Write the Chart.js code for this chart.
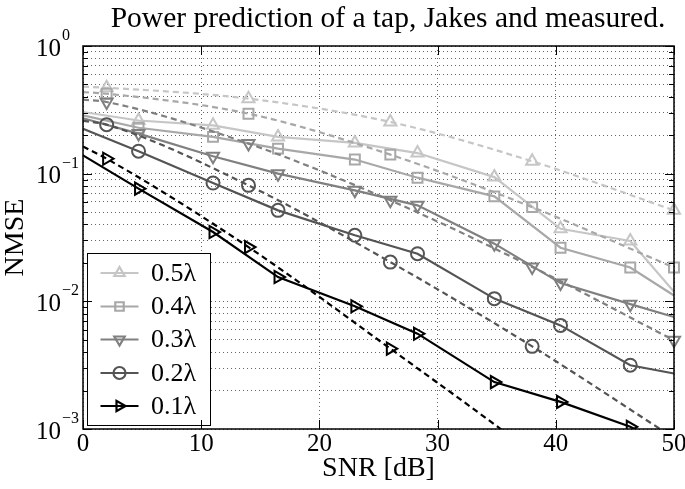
<!DOCTYPE html>
<html><head><meta charset="utf-8">
<script src="https://cdn.jsdelivr.net/npm/chart.js@4.4.1/dist/chart.umd.min.js"></script>
<style>html,body{margin:0;padding:0;background:#fff}#wrap{width:685px;height:489px;position:relative}</style>
</head><body><div id="wrap"><canvas id="c" width="685" height="489"></canvas></div>
<script>
// ---------- data ----------
const seriesLabels = ['0.5λ', '0.4λ', '0.3λ', '0.2λ', '0.1λ'];
// measured (solid) curves
const snrSolid = [0, 4.7, 11, 16.5, 23, 28.3, 34.8, 40.4, 46.3, 50];
const solid05 = [0.304, 0.261, 0.239, 0.194, 0.174, 0.145, 0.094, 0.037, 0.0297, 0.0119];
const solid04 = [0.286, 0.229, 0.194, 0.157, 0.129, 0.093, 0.0664, 0.0263, 0.0184, 0.0111];
const solid03 = [0.272, 0.206, 0.137, 0.100, 0.074, 0.0565, 0.0283, 0.0139, 0.0095, 0.00753];
const solid02 = [0.225, 0.150, 0.0844, 0.0516, 0.0329, 0.0236, 0.0105, 0.00648, 0.00316, 0.00272];
const solid01 = [0.139, 0.0763, 0.0349, 0.0155, 0.00914, 0.00558, 0.00233, 0.00163, 0.00104, 0.0007];
const solidMarked = [false, true, true, true, true, true, true, true, true, false];
// Jakes (dashed) curves
const snrDashed = [0, 2, 14, 26, 38, 50];
const dashed05 = [0.48, 0.471, 0.387, 0.254, 0.125, 0.0516];
const dashed04 = [0.435, 0.423, 0.295, 0.141, 0.0547, 0.0184];
const dashed03 = [0.38, 0.364, 0.172, 0.0618, 0.0186, 0.00495];
const dashed02 = [0.26, 0.242, 0.081, 0.0203, 0.00444, 0.00085];
const dashed01 = [0.163, 0.131, 0.0266, 0.00426, 0.00065, 0.000083];
const dashedMarked = [false, true, true, true, true, true];
// ticks
const xTickValues = [0, 10, 20, 30, 40, 50];
const xTickLabels = ['0', '10', '20', '30', '40', '50'];
const yTickValues = [1, 0.1, 0.01, 0.001];
const yTickExponents = ['0', '−1', '−2', '−3'];
const yDecades = [-3, -2, -1];
const yMantissas = [1, 2, 3, 4, 5, 6, 7, 8, 9];

// ---------- styling ----------
const colors = ['#c6c6c6', '#a8a8a8', '#808080', '#545454', '#000000'];
const shapes = ['triangle', 'rect', 'triangle', 'circle', 'triangle'];
const rotations = [0, 0, 180, 0, 90];
const radii = [7, 7, 7, 6.5, 7];
const solids = [solid05, solid04, solid03, solid02, solid01];
const dasheds = [dashed05, dashed04, dashed03, dashed02, dashed01];

const yGrid = [];
yDecades.forEach(e => yMantissas.forEach(m => yGrid.push(+(m * Math.pow(10, e)).toPrecision(3))));
yGrid.push(1);

const datasets = [];
for (let i = 4; i >= 0; i--) {
  datasets.push({
    label: seriesLabels[i] + ' measured',
    data: snrSolid.map((x, k) => ({x, y: solids[i][k]})),
    borderColor: colors[i], backgroundColor: 'rgba(0,0,0,0)',
    borderWidth: 2.2, tension: 0,
    pointStyle: shapes[i], pointRotation: rotations[i],
    pointRadius: solidMarked.map(m => m ? radii[i] : 0),
    pointBorderWidth: 2, pointBorderColor: colors[i], pointBackgroundColor: 'rgba(0,0,0,0)',
    clip: {left: 12, top: 12, right: 12, bottom: 0}
  });
  datasets.push({
    label: seriesLabels[i] + ' Jakes',
    data: snrDashed.map((x, k) => ({x, y: dasheds[i][k]})),
    borderColor: colors[i], backgroundColor: 'rgba(0,0,0,0)',
    borderWidth: 2.2, borderDash: [6, 4], cubicInterpolationMode: 'monotone',
    pointStyle: shapes[i], pointRotation: rotations[i],
    pointRadius: dashedMarked.map(m => m ? radii[i] : 0),
    pointBorderWidth: 2, pointBorderColor: colors[i], pointBackgroundColor: 'rgba(0,0,0,0)',
    clip: {left: 12, top: 12, right: 12, bottom: 0}
  });
}

const FONT = "'Liberation Serif', 'Times New Roman', serif";

function drawMarker(ctx, shape, rot, r, x, y) {
  ctx.beginPath();
  if (shape === 'circle') {
    ctx.arc(x, y, r, 0, Math.PI * 2);
  } else if (shape === 'rect') {
    const s = Math.SQRT1_2 * r;
    ctx.rect(x - s, y - s, 2 * s, 2 * s);
  } else {
    let a = rot * Math.PI / 180;
    ctx.moveTo(x + Math.sin(a) * r, y - Math.cos(a) * r);
    a += 2 * Math.PI / 3;
    ctx.lineTo(x + Math.sin(a) * r, y - Math.cos(a) * r);
    a += 2 * Math.PI / 3;
    ctx.lineTo(x + Math.sin(a) * r, y - Math.cos(a) * r);
    ctx.closePath();
  }
  ctx.stroke();
}

const deco = {
  id: 'deco',
  afterDraw(chart) {
    const ctx = chart.ctx, a = chart.chartArea, xs = chart.scales.x, ys = chart.scales.y;
    ctx.save();
    // legend
    const lx0 = 87.5, ly0 = 253.5, lx1 = 210.5, ly1 = 425.5;
    ctx.fillStyle = '#fff';
    ctx.fillRect(lx0, ly0, lx1 - lx0, ly1 - ly0);
    ctx.strokeStyle = '#000'; ctx.lineWidth = 1;
    ctx.strokeRect(lx0, ly0, lx1 - lx0, ly1 - ly0);
    const rowY = [273, 306.5, 339.5, 373, 406];
    ctx.font = '26px ' + FONT;
    ctx.textBaseline = 'middle'; ctx.textAlign = 'left';
    for (let i = 0; i < 5; i++) {
      ctx.strokeStyle = colors[i]; ctx.lineWidth = 2.2; ctx.setLineDash([]);
      ctx.beginPath(); ctx.moveTo(100.5, rowY[i]); ctx.lineTo(138.5, rowY[i]); ctx.stroke();
      drawMarker(ctx, shapes[i], rotations[i], 6, 119.5, rowY[i]);
      ctx.fillStyle = '#000';
      ctx.fillText(seriesLabels[i], 151, rowY[i] + 1);
    }
    // inner ticks
    ctx.strokeStyle = '#000'; ctx.lineWidth = 1;
    ctx.beginPath();
    yGrid.forEach(v => {
      const p = Math.round(ys.getPixelForValue(v)) + 0.5;
      const major = yTickValues.indexOf(v) >= 0;
      const L = major ? 9 : 5;
      ctx.moveTo(a.left, p); ctx.lineTo(a.left + L, p);
      ctx.moveTo(a.right, p); ctx.lineTo(a.right - L, p);
    });
    xTickValues.forEach(v => {
      const p = Math.round(xs.getPixelForValue(v)) + 0.5;
      ctx.moveTo(p, a.bottom); ctx.lineTo(p, a.bottom - 9);
      ctx.moveTo(p, a.top); ctx.lineTo(p, a.top + 9);
    });
    ctx.stroke();
    // box
    ctx.lineWidth = 1.5;
    ctx.strokeRect(a.left, a.top, a.right - a.left, a.bottom - a.top);
    // x tick labels
    ctx.fillStyle = '#000';
    ctx.font = '25px ' + FONT;
    ctx.textAlign = 'center'; ctx.textBaseline = 'top';
    xTickValues.forEach((v, k) => ctx.fillText(xTickLabels[k], xs.getPixelForValue(v), a.bottom + 3));
    // y tick labels
    yTickValues.forEach((v, k) => {
      const p = ys.getPixelForValue(v);
      ctx.font = '25px ' + FONT;
      ctx.textAlign = 'left'; ctx.textBaseline = 'middle';
      ctx.fillText('10', 36, p + 3);
      ctx.font = '16px ' + FONT;
      ctx.textBaseline = 'alphabetic';
      ctx.fillText(yTickExponents[k], 62, p - 6);
    });
    // axis titles
    ctx.font = '28px ' + FONT;
    ctx.textAlign = 'center'; ctx.textBaseline = 'middle';
    ctx.fillText('SNR [dB]', (a.left + a.right) / 2, 469);
    ctx.save();
    ctx.translate(16, (a.top + a.bottom) / 2);
    ctx.rotate(-Math.PI / 2);
    ctx.fillText('NMSE', 0, 0);
    ctx.restore();
    // title
    ctx.font = '29.5px ' + FONT;
    ctx.fillText('Power prediction of a tap, Jakes and measured.', 388, 19);
    ctx.restore();
  }
};

new Chart(document.getElementById('c'), {
  type: 'line',
  data: {datasets},
  options: {
    responsive: false, animation: false,
    layout: {padding: {left: 83, top: 46, right: 11, bottom: 60}},
    plugins: {legend: {display: false}, tooltip: {enabled: false}, title: {display: false}},
    scales: {
      x: {
        type: 'linear', min: 0, max: 50,
        afterBuildTicks: s => { s.ticks = xTickValues.map(v => ({value: v})); },
        ticks: {display: false},
        grid: {color: 'rgba(0,0,0,0.6)', lineWidth: 1, drawTicks: false},
        border: {display: false, dash: [1, 3]}
      },
      y: {
        type: 'logarithmic', min: 0.001, max: 1,
        afterBuildTicks: s => { s.ticks = yGrid.map(v => ({value: v})); },
        ticks: {display: false},
        grid: {color: 'rgba(0,0,0,0.6)', lineWidth: 1, drawTicks: false},
        border: {display: false, dash: [1, 3]}
      }
    }
  },
  plugins: [deco]
});
</script>
</body></html>
